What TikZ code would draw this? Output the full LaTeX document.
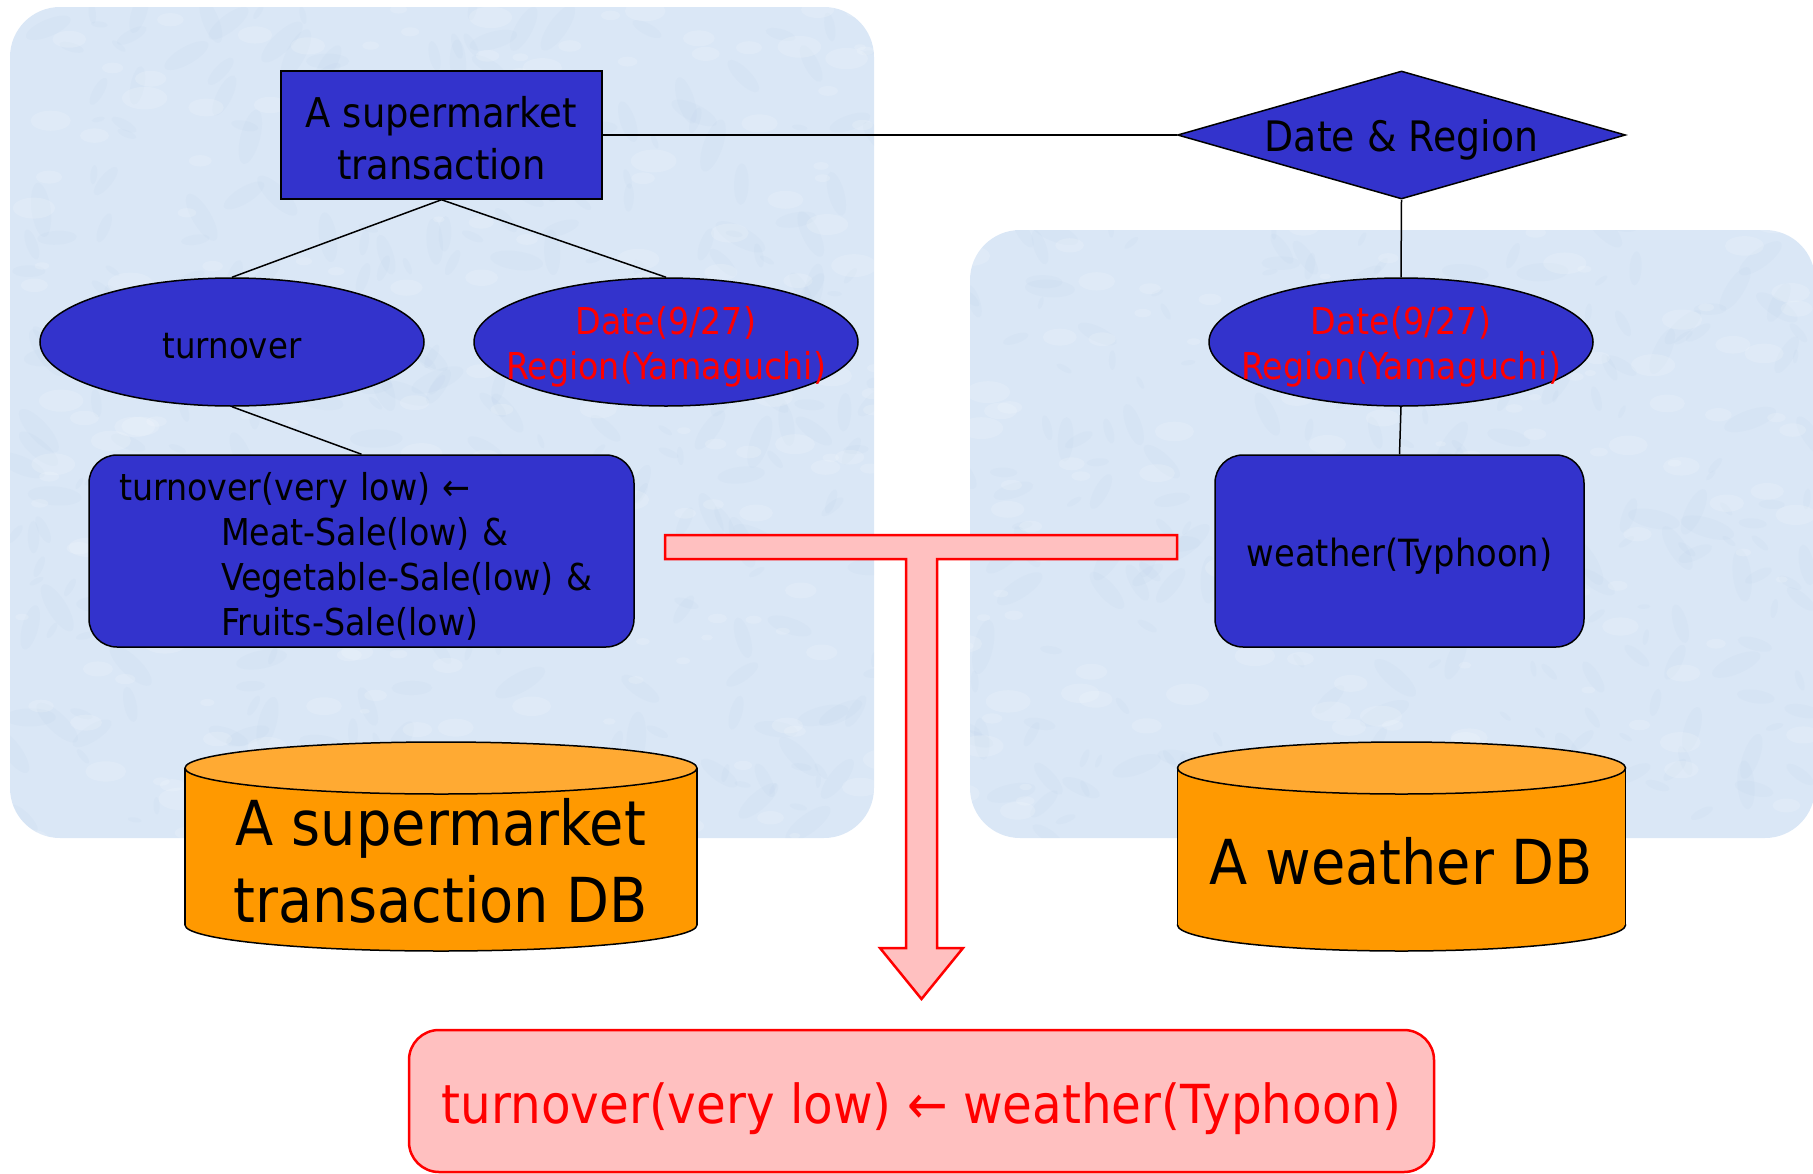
\documentclass[tikz,border=0pt]{standalone}
\usepackage{fontspec}
\setmainfont{DejaVu Sans}[FakeStretch=0.9]
\usetikzlibrary{shapes.geometric}

\definecolor{panelblue}{RGB}{218,231,246}
\definecolor{paneldark}{RGB}{186,208,234}
\definecolor{entblue}{RGB}{51,51,204}
\definecolor{dborange}{RGB}{255,153,0}
\definecolor{dbtop}{RGB}{255,170,51}
\definecolor{pinkfill}{RGB}{255,192,192}
\definecolor{hotred}{RGB}{255,0,0}

\tikzset{
  panel/.style={fill=panelblue, rounded corners=50},
  entity/.style={draw=black, line width=1.5pt, fill=entblue, inner sep=0pt},
  attr/.style={ellipse, draw=black, line width=1.5pt, fill=entblue, inner sep=0pt,
    minimum width=384, minimum height=128},
  rulebox/.style={draw=black, line width=1.5pt, fill=entblue, rounded corners=28,
    minimum height=192, inner sep=0pt},
  txt/.style={align=center, inner sep=0pt, yshift=-5pt},
  conn/.style={draw=black, line width=1.5pt},
  dbshape/.style={fill=dborange, draw=black, line width=1.5pt},
  dblabel/.style={align=center, font=\fontsize{62}{77}\selectfont},
  pinkshape/.style={fill=pinkfill, draw=hotred, line width=2.5pt, line join=miter}
}

\begin{document}
\begin{tikzpicture}[x=1pt, y=-1pt]
\useasboundingbox (0,0) rectangle (1813,1173);

% background panels with a faint mottled texture
\fill[panel] (10,7) rectangle (874,838);
\fill[panel] (970,230) rectangle (1815,838);
\begin{scope}
  \clip[rounded corners=50] (10,7) rectangle (874,838)
                            (970,230) rectangle (1815,838);
  \pgfmathsetseed{4242}
  \foreach \i in {1,...,700}{
    \pgfmathsetmacro{\px}{10+rnd*1805}
    \pgfmathsetmacro{\py}{7+rnd*831}
    \pgfmathsetmacro{\pr}{6+rnd*22}
    \pgfmathsetmacro{\pa}{rnd*180}
    \fill[paneldark, opacity=0.12, rotate around={\pa:(\px,\py)}]
      (\px,\py) ellipse [x radius=\pr, y radius=0.35*\pr];
  }
  \foreach \i in {1,...,400}{
    \pgfmathsetmacro{\px}{10+rnd*1805}
    \pgfmathsetmacro{\py}{7+rnd*831}
    \pgfmathsetmacro{\pr}{5+rnd*18}
    \fill[white, opacity=0.15] (\px,\py) ellipse [x radius=\pr, y radius=0.5*\pr];
  }
\end{scope}

% entity, relationship and attribute nodes
\node[entity, minimum width=321, minimum height=128,
  label={[txt, yshift=2pt, font=\fontsize{41}{52}\selectfont]center:A supermarket\\transaction}]
  (trans) at (441.5,135) {};
\node[entity, diamond, aspect=3.5, minimum width=448, minimum height=128,
  label={[txt, font=\fontsize{42}{52}\selectfont]center:Date \& Region}]
  (rel) at (1401.5,135) {};
\node[attr, label={[txt, yshift=1pt, font=\fontsize{36}{45}\selectfont]center:turnover}]
  (turn) at (232,342) {};
\node[attr, label={[txt, text=hotred, font=\fontsize{37}{45}\selectfont]center:Date(9/27)\\Region(Yamaguchi)}]
  (dateL) at (666,342) {};
\node[attr, label={[txt, text=hotred, font=\fontsize{37}{45}\selectfont]center:Date(9/27)\\Region(Yamaguchi)}]
  (dateR) at (1401,342) {};

% rule boxes
\node[rulebox, minimum width=545,
  label={[txt, align=left, text width=485, font=\fontsize{37}{45}\selectfont]center:turnover(very low) ←\\
   \hspace*{102pt}Meat-Sale(low) \&\\
   \hspace*{102pt}Vegetable-Sale(low) \&\\
   \hspace*{102pt}Fruits-Sale(low)}]
  (rule) at (361.5,551) {};
\node[rulebox, minimum width=369,
  label={[txt, font=\fontsize{37.5}{45}\selectfont]center:weather(Typhoon)}]
  (weather) at (1399.5,551) {};

% connectors
\draw[conn] (trans.east) -- (rel.west);
\draw[conn] (trans.south) -- (turn.north);
\draw[conn] (trans.south) -- (dateL.north);
\draw[conn] (turn.south) -- (rule.north);
\draw[conn] (rel.south) -- (dateR.north);
\draw[conn] (dateR.south) -- (weather.north);

% database cylinders
\filldraw[dbshape] (441,925) ellipse [x radius=256, y radius=26];
\fill[dborange] (185,768) rectangle (697,925);
\draw[conn] (185,768) -- (185,925) (697,768) -- (697,925);
\filldraw[dbshape, fill=dbtop] (441,768) ellipse [x radius=256, y radius=26];
\node[dblabel] (dbS) at (441,861) {A supermarket\\transaction DB};

\filldraw[dbshape] (1401.5,925) ellipse [x radius=224, y radius=26];
\fill[dborange] (1177.5,768) rectangle (1625.5,925);
\draw[conn] (1177.5,768) -- (1177.5,925) (1625.5,768) -- (1625.5,925);
\filldraw[dbshape, fill=dbtop] (1401.5,768) ellipse [x radius=224, y radius=26];
\node[dblabel] (dbW) at (1401.5,861) {A weather DB};

% joining T-arrow
\filldraw[pinkshape] (665,535) -- (1177,535) -- (1177,559) -- (937,559)
  -- (937,948) -- (963,948) -- (921.5,999) -- (880,948) -- (906,948)
  -- (906,559) -- (665,559) -- cycle;

% discovered rule
\node[pinkshape, rounded corners=30, minimum width=1025, minimum height=142,
  label={[txt, yshift=-3pt, text=hotred, font=\fontsize{53.8}{62}\selectfont]center:turnover(very low) ← weather(Typhoon)}]
  (result) at (921.5,1101) {};
\end{tikzpicture}
\end{document}
